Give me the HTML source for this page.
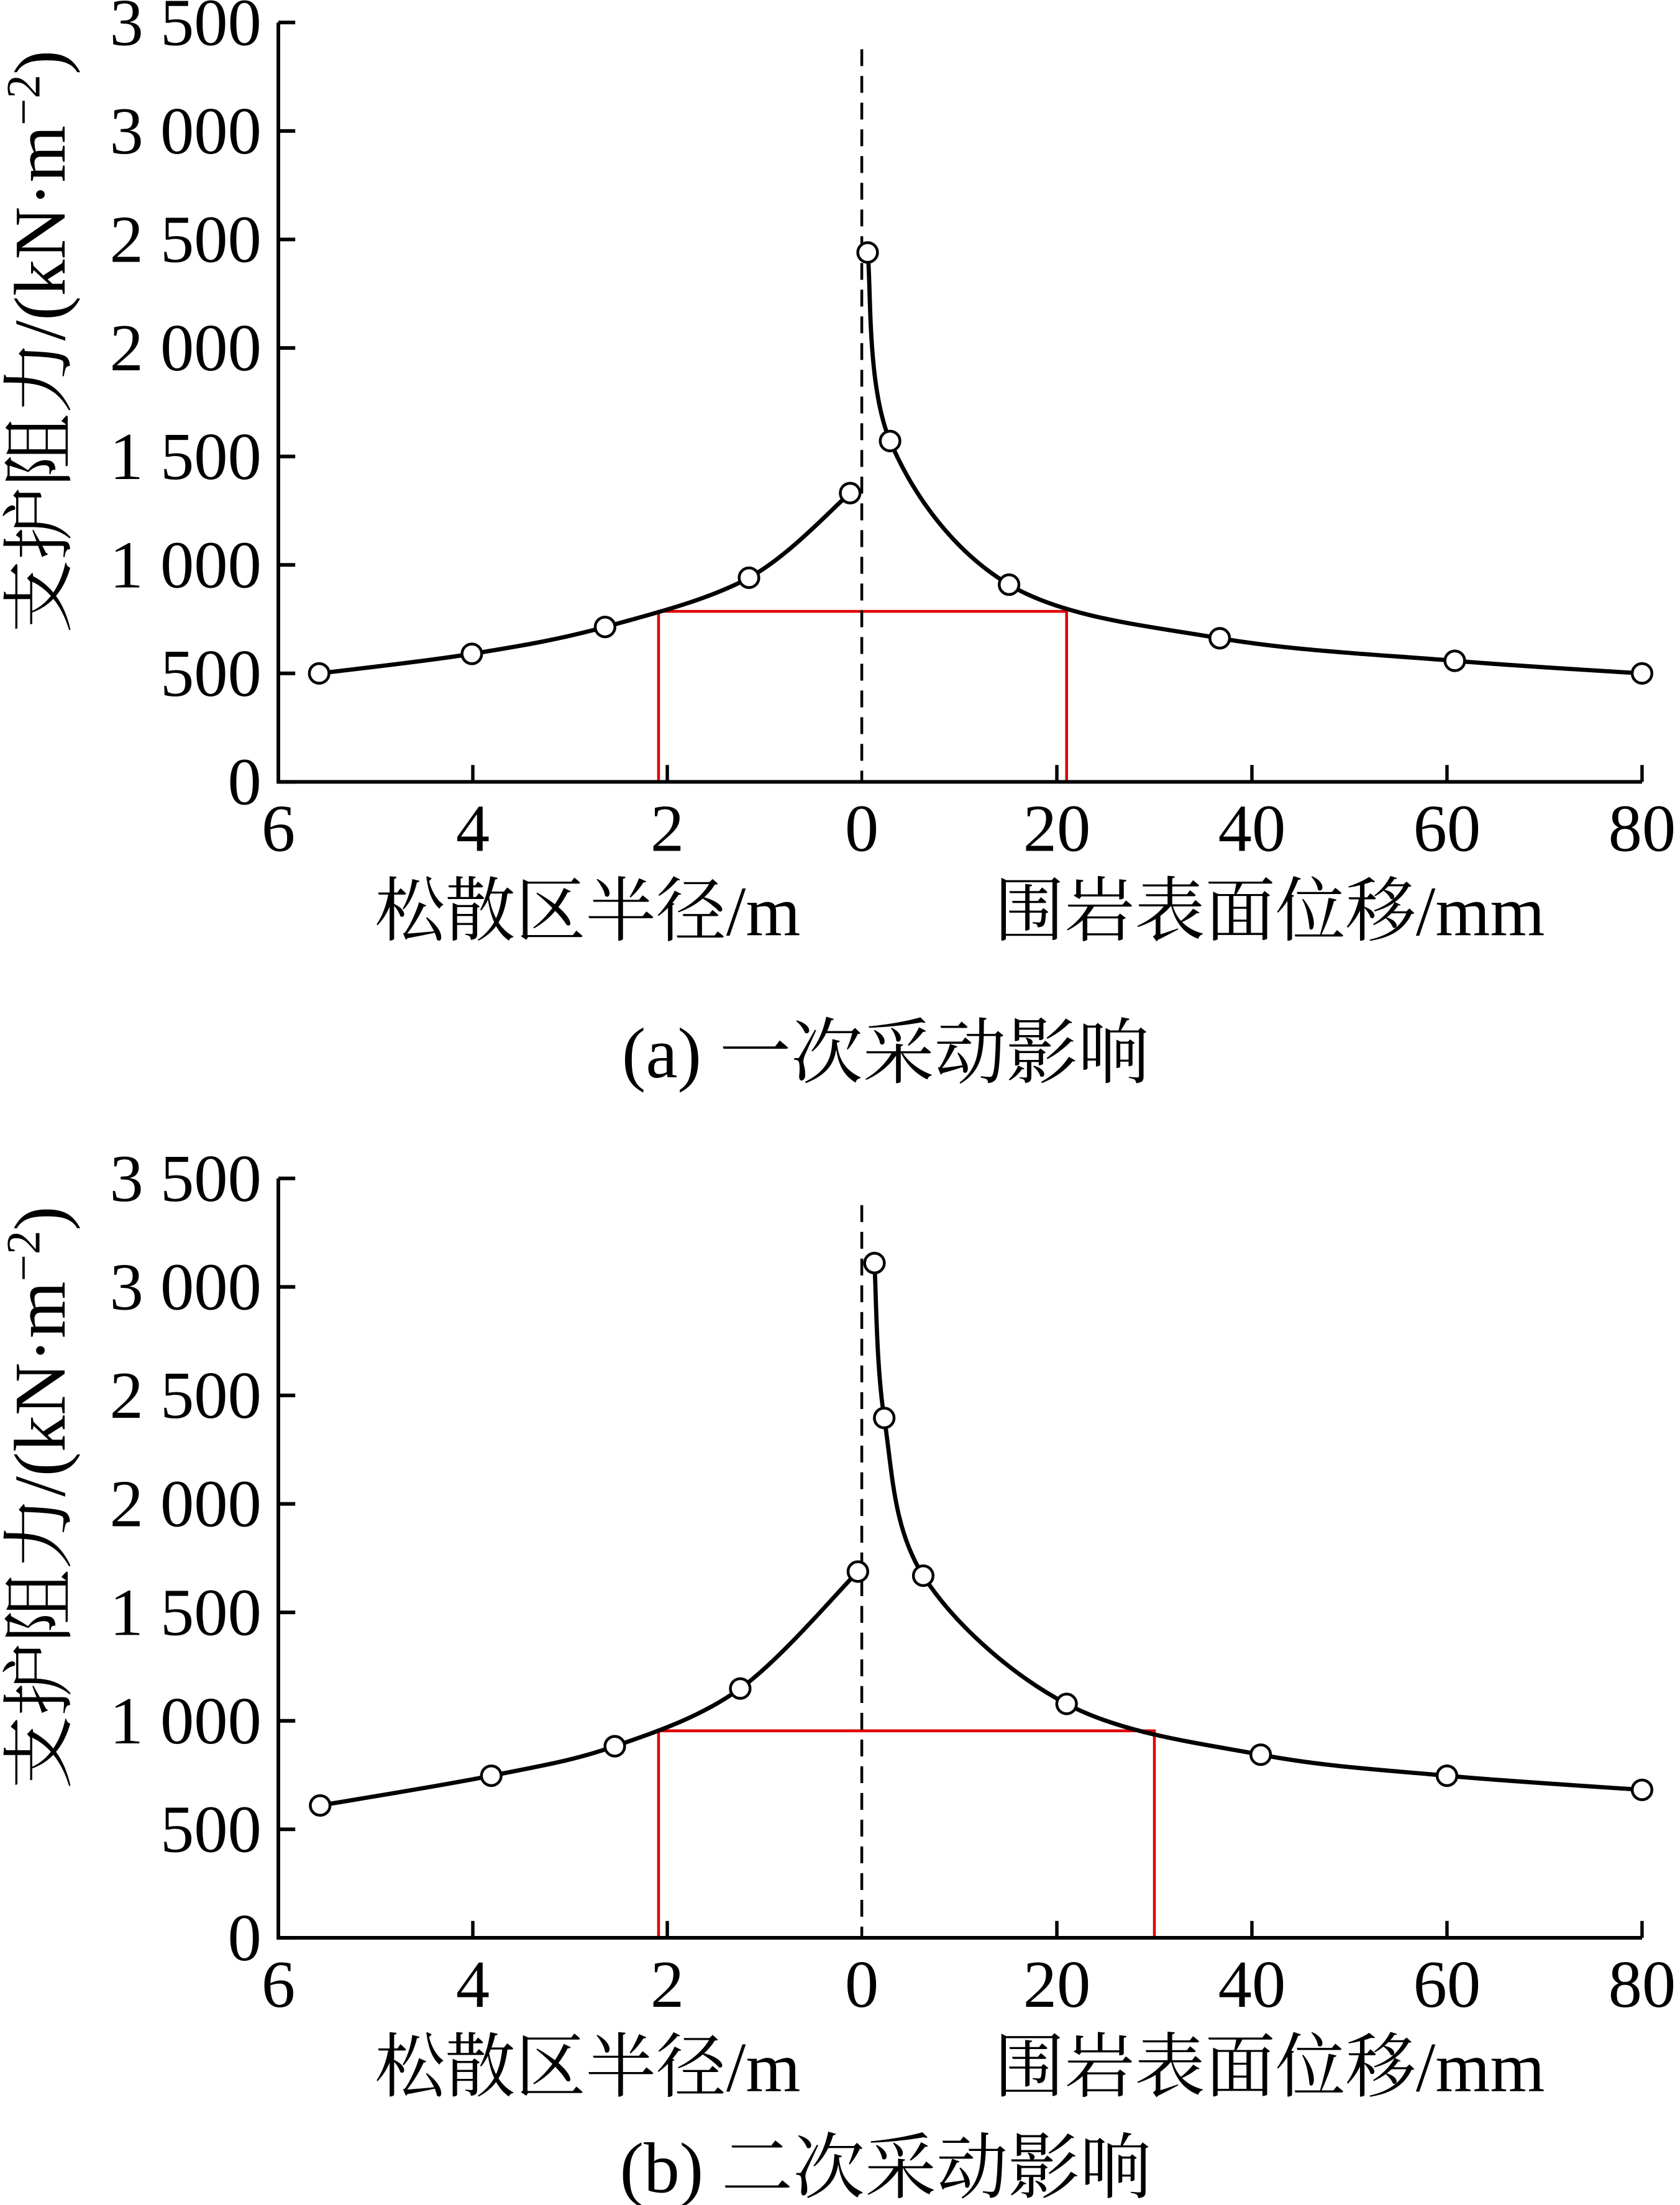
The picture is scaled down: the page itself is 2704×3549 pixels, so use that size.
<!DOCTYPE html>
<html><head><meta charset="utf-8"><style>
html,body{margin:0;padding:0;background:#fff}
svg{display:block}
text{font-family:"Liberation Serif","Noto Serif CJK SC",serif;fill:#000}
</style></head><body>
<svg id="fig" width="2704" height="3549" viewBox="0 0 1195 1568" preserveAspectRatio="none" xmlns="http://www.w3.org/2000/svg"></svg>
<script>
const yTicks=[0,500,1000,1500,2000,2500,3000,3500];
const yTickLabels=["0","500","1 000","1 500","2 000","2 500","3 000","3 500"];
const leftTicks=[6,4,2,0];
const rightTicks=[20,40,60,80];
const aRadius=[5.58,4.01,2.64,1.16,0.12];
const aRadiusForce=[500,590,714,941,1331];
const aDisp=[0.6,2.9,15.1,36.7,60.8,80];
const aDispForce=[2440,1571,909,662,558,500];
const aRedRadius=2.09, aRedDisp=21, aRedForce=786;
const bRadius=[5.57,3.81,2.54,1.25,0.04];
const bRadiusForce=[610,747,883,1149,1688];
const bDisp=[1.3,2.3,6.3,21,40.9,60,80];
const bDispForce=[3110,2396,1669,1078,844,747,682];
const bRedRadius=2.09, bRedDisp=30, bRedForce=954;

const NS="http://www.w3.org/2000/svg";
const svg=document.getElementById('fig');
function mk(tag,attrs,parent){const e=document.createElementNS(NS,tag);for(const k in attrs)e.setAttribute(k,attrs[k]);(parent||svg).appendChild(e);return e;}
function catmull(pts){
  let d="M"+pts[0][0]+","+pts[0][1];
  for(let i=0;i<pts.length-1;i++){
    const p0=pts[i-1]||pts[i],p1=pts[i],p2=pts[i+1],p3=pts[i+2]||pts[i+1];
    const c1=[p1[0]+(p2[0]-p0[0])/6,p1[1]+(p2[1]-p0[1])/6];
    const c2=[p2[0]-(p3[0]-p1[0])/6,p2[1]-(p3[1]-p1[1])/6];
    d+=" C"+c1+" "+c2+" "+p2;
  }
  return d;
}
function chart(id,y0,radius,rForce,disp,dForce,redR,redD,redF,caption){
  const g=mk('g',{});
  
  
  const x0=613,xL=198,xR=1168,top=y0-540;
  const xr=r=>x0-r*69.17;
  const xd=d=>x0+d*6.9375;
  const y=v=>y0-v*540/3500;
  const red=mk('path',{d:`M${xr(redR)},${y0} V${y(redF)} H${xd(redD)} V${y0}`,fill:'none',stroke:'#e00000','stroke-width':2},g);
  
  
  const dash=mk('line',{x1:x0,x2:x0,y1:top+19,y2:y0,stroke:'#000','stroke-width':2,'stroke-dasharray':'12,7'},g);
  
  
  const ax=mk('path',{d:`M${xL},${top} V${y0} H${xR}`,fill:'none',stroke:'#000','stroke-width':2.6},g);
  
  
  yTicks.forEach((v,i)=>{
    mk('line',{x1:xL,x2:xL+12,y1:y(v),y2:y(v),stroke:'#000','stroke-width':2.6},g);
    const t=mk('text',{x:186,y:y(v)+16,'text-anchor':'end','font-size':48},g);
    t.textContent=yTickLabels[i];
    
    
  });
  leftTicks.forEach(v=>{
    if(v!==6&&v!==0) mk('line',{x1:xr(v),x2:xr(v),y1:y0,y2:y0-12,stroke:'#000','stroke-width':2.4},g);
    const t=mk('text',{x:xr(v),y:y0+49,'text-anchor':'middle','font-size':48},g);
    t.textContent=String(v);
    
    
  });
  rightTicks.forEach(v=>{
    mk('line',{x1:xd(v),x2:xd(v),y1:y0,y2:y0-12,stroke:'#000','stroke-width':2.4},g);
    const t=mk('text',{x:xd(v),y:y0+49,'text-anchor':'middle','font-size':48},g);
    t.textContent=String(v);
    
    
  });
  const lp=radius.map((r,i)=>[xr(r),y(rForce[i])]);
  const rp=disp.map((d,i)=>[xd(d),y(dForce[i])]);
  [lp,rp].forEach((pts,k)=>{
    const c=mk('path',{d:catmull(pts),fill:'none',stroke:'#000','stroke-width':3},g);
    
    
    pts.forEach(p=>{
      const m=mk('circle',{cx:p[0],cy:p[1],r:7,fill:'#fff',stroke:'#000','stroke-width':2},g);
      
      
    });
  });
  const yt=mk('text',{transform:`translate(46,${y0-313}) rotate(-90)`,'text-anchor':'middle','font-size':52},g);
  yt.innerHTML='支护阻力/(kN·m<tspan dy="-18" font-size="34">−2</tspan><tspan dy="18">)</tspan>';
  
  
  const t1=mk('text',{x:418,y:y0+109,'text-anchor':'middle','font-size':50},g);
  t1.textContent='松散区半径/m';
  
  
  const t2=mk('text',{x:903,y:y0+109,'text-anchor':'middle','font-size':50},g);
  t2.textContent='围岩表面位移/mm';
  
  
  const cap=mk('text',{x:630,y:caption[1],'text-anchor':'middle','font-size':51},g);
  cap.textContent=caption[0];
  
  
}
chart('chart-a',556,aRadius,aRadiusForce,aDisp,aDispForce,aRedRadius,aRedDisp,aRedForce,['(a)  一次采动影响',766]);
chart('chart-b',1378,bRadius,bRadiusForce,bDisp,bDispForce,bRedRadius,bRedDisp,bRedForce,['(b)  二次采动影响',1559]);
</script>
</body></html>
